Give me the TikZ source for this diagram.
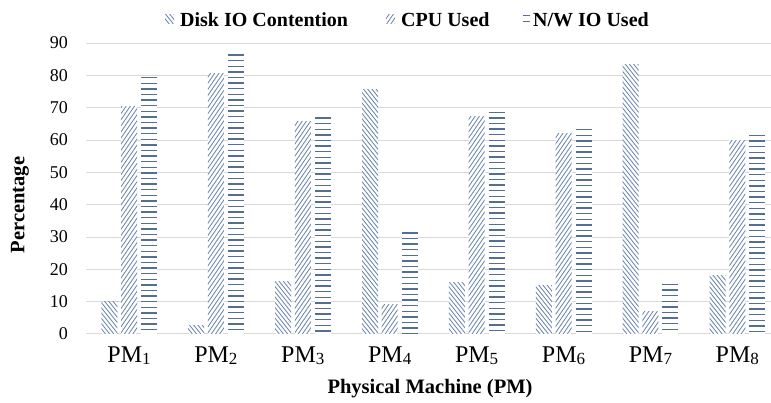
\documentclass[tikz,border=0pt]{standalone}
\usepackage{fontspec}
\setmainfont{Liberation Serif}
\definecolor{hatch}{RGB}{84,110,150}
\definecolor{hatchlight}{RGB}{112,136,174}
\definecolor{gridgray}{RGB}{217,217,217}

% hatched bars: #1 left x, #2 base y, #3 width, #4 height
\newcommand{\drawdiskbar}[4]{%
  \fill[white] (#1,#2) rectangle ++(#3,#4);
  \begin{scope}
    \clip (#1,#2) rectangle ++(#3,#4);
    \pgfmathsetmacro\hh{#4+2}
    \pgfmathsetmacro\run{\hh/1.25}
    \pgfmathsetmacro\xend{#3+\run+4}
    \foreach \s in {0,4.2,...,\xend}
      \draw[diagline] ({#1+\s},#2) -- ++({-\run},\hh);
  \end{scope}}
\newcommand{\drawcpubar}[4]{%
  \fill[white] (#1,#2) rectangle ++(#3,#4);
  \begin{scope}
    \clip (#1,#2) rectangle ++(#3,#4);
    \pgfmathsetmacro\hh{#4+2}
    \pgfmathsetmacro\run{\hh/1.45}
    \pgfmathsetmacro\xend{#3+\run+4}
    \foreach \s in {0,4.2,...,\xend}
      \draw[diagline] ({#1+#3-\s},#2) -- ++({\run},\hh);
  \end{scope}}
\newcommand{\drawnetbar}[4]{%
  \fill[white] (#1,#2) rectangle ++(#3,#4);
  \pgfmathtruncatemacro\nlines{floor((#4-0.7)/5.6)}
  \foreach \k in {0,...,\nlines}
    \draw[netline] (#1,{#2+#4-0.7-5.6*\k}) -- ++(#3,0);}

\begin{document}
\begin{tikzpicture}[x=1pt,y=1pt,
  diagline/.style={draw=hatchlight,line width=0.85pt},
  netline/.style={draw=hatch,line width=1.4pt},
  gridline/.style={draw=gridgray,line width=1pt},
  ticklabel/.style={font=\fontsize{18}{18}\selectfont,anchor=east,inner sep=0pt},
  catlabel/.style={anchor=base,inner sep=0pt},
  legendtext/.style={font=\fontsize{20}{20}\selectfont\bfseries,anchor=base west,inner sep=0pt},
  axistitle/.style={font=\fontsize{20.5}{20.5}\selectfont\bfseries,inner sep=0pt}
]
\useasboundingbox (0,0) rectangle (771,403);

% horizontal gridlines and value labels (0 ... 90)
\foreach \k in {0,...,9} {
  \pgfmathsetmacro\gy{69+32.33*\k}
  \draw[gridline] (86,\gy) -- (771,\gy);
  \pgfmathtruncatemacro\lab{10*\k}
  \node[ticklabel] (tick\k) at (68,\gy) {\lab};
}

% bars: disk contention, CPU used, network IO used
\foreach \i/\d/\c/\n in {1/10/70.3/79.5, 2/2.5/80.7/86.5, 3/16.2/65.8/67,
                         4/75.6/9/31.5, 5/15.9/67.3/68.8, 6/14.9/62/63.4,
                         7/83.3/7.1/15.5, 8/18/60/61.6} {
  \pgfmathsetmacro\cx{129+86.9*(\i-1)}
  \pgfmathsetmacro\hd{3.233*\d}
  \pgfmathsetmacro\hc{3.233*\c}
  \pgfmathsetmacro\hn{3.233*\n}
  \pgfmathsetmacro\xd{\cx-27.7}
  \pgfmathsetmacro\xc{\cx-8}
  \pgfmathsetmacro\xn{\cx+12}
  \drawdiskbar{\xd}{69}{16}{\hd}
  \drawcpubar{\xc}{69}{16}{\hc}
  \drawnetbar{\xn}{69}{16}{\hn}
  \node[catlabel] (pm\i) at (\cx,40)
    {{\fontsize{24}{24}\selectfont PM}\raisebox{-2pt}{\fontsize{17}{17}\selectfont\i}};
}

% axis titles
\node[axistitle] (xtitle) at (430,14) {Physical Machine (PM)};
\node[axistitle,rotate=90] (ytitle) at (20,198) {Percentage};

% legend
\drawdiskbar{165}{379}{9}{9}
\node[legendtext] (legdisk) at (180,376.5) {Disk IO Contention};
\drawcpubar{386}{379}{9}{9}
\node[legendtext] (legcpu) at (401,376.5) {CPU Used};
\drawnetbar{523}{379}{7}{9}
\node[legendtext] (legnet) at (533,376.5) {N/W IO Used};
\end{tikzpicture}
\end{document}
